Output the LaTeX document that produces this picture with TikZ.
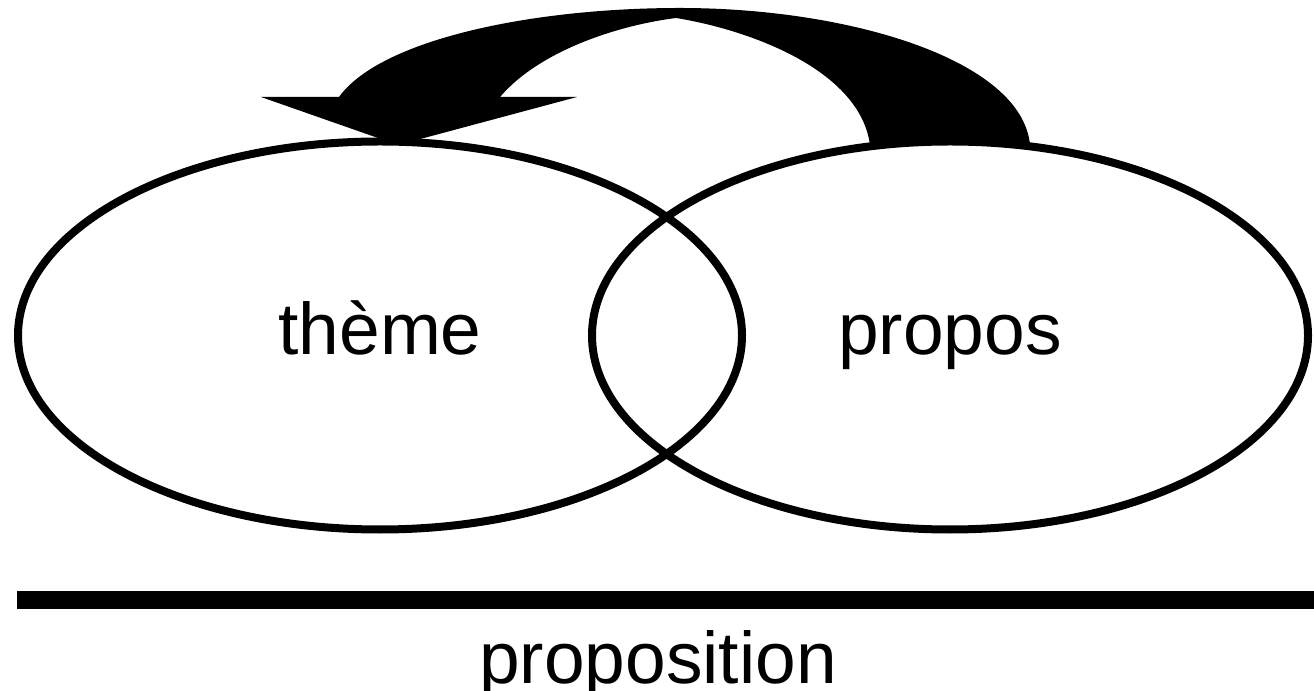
\documentclass[tikz,border=0pt]{standalone}
\usepackage{fontspec}
\setmainfont{Liberation Sans}
\usetikzlibrary{shapes.geometric}
\def\lw{0.08cm}
\def\zoneH{3.88cm}

\begin{document}
\begin{tikzpicture}[
    line width=\lw,
    every node/.style={font=\fontsize{20.8}{25}\selectfont},
    zone/.style={ellipse, draw, minimum height=\zoneH, inner sep=0pt,
        text height=0.55cm, text depth=0.16cm}
]
\useasboundingbox (0,0) rectangle (13.14,6.90);
% curved arrow from propos back to theme
\fill (10.30,5.45) .. controls (10.22,6.3) and (8.5,6.82) .. (6.80,6.82)
    .. controls (5.3,6.82) and (3.8,6.5) .. (3.39,5.93)
    -- (2.61,5.93) -- (3.98,5.45) -- (5.77,5.93) -- (5.00,5.93)
    .. controls (5.4,6.4) and (6.2,6.65) .. (6.76,6.72)
    .. controls (7.5,6.6) and (8.6,6.2) .. (8.70,5.45) -- cycle;
\node[zone, minimum width=7.24cm] (theme) at (3.80,3.545) {thème};
\node[zone, minimum width=7.16cm] (propos) at (9.50,3.545) {propos};
\draw[line width=0.18cm] (0.17,0.90) -- (13.14,0.90);
\node[anchor=base] (proposition) at (6.58,0.07) {proposition};
\end{tikzpicture}
\end{document}
